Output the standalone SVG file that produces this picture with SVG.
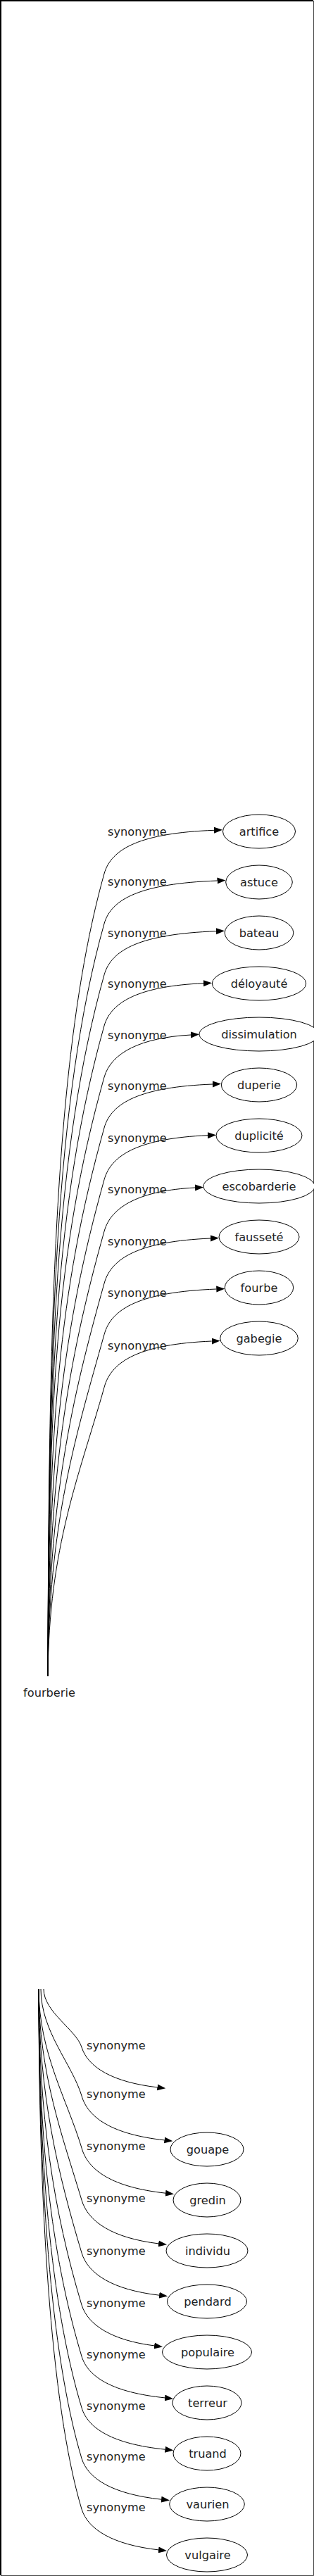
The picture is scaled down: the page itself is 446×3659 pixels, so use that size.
<svg xmlns="http://www.w3.org/2000/svg" width="446" height="3659" viewBox="0 0 446 3659">
<style>
.bg{fill:#fff}
.e{fill:none;stroke:#000;stroke-width:1;marker-end:url(#arr)}
.n{fill:#fff;stroke:#000;stroke-width:1}
.t{font-family:"DejaVu Sans",sans-serif;font-size:16.2px;fill:#222}
.m{text-anchor:middle}
</style>
<defs>
<marker id="arr" viewBox="0 -5 12 10" refX="0" refY="0" markerWidth="12" markerHeight="10" markerUnits="userSpaceOnUse" orient="auto"><path d="M0,-4.5L12,0L0,4.5z" fill="#000"/></marker>
</defs>
<rect class="bg" x="0" y="0" width="446" height="3659"/>
<path d="M1,3658V1H445" fill="none" stroke="#000" stroke-width="2"/>
<path d="M445.5,1V3658.5H1" fill="none" stroke="#444" stroke-width="1"/>

<g id="connectors">
<path class="e" d="M68,2381C69,1868 78,1491 148,1241C158,1205.2 200,1183.3 304,1179.3"/>
<path class="e" d="M68,2381C69,1900 78,1562 148,1312C158,1276.6 200,1255 308.5,1251"/>
<path class="e" d="M68,2381C69,1932.7 78,1634.7 148,1384.7C158,1348.7 200,1326.7 307,1322.7"/>
<path class="e" d="M68,2381C69,1965.2 78,1707 148,1457C158,1422 200,1400.6 289,1396.7"/>
<path class="e" d="M68,2381C69,1998 78,1780 148,1530C158,1495.2 200,1473.9 271,1470"/>
<path class="e" d="M68,2381C69,2030.5 82.6,1835.7 148,1602C158,1566 200,1544 302,1540"/>
<path class="e" d="M68,2381C69,2063.6 88.8,1887.3 148,1675.7C158,1639.2 200,1616.8 295,1612.7"/>
<path class="e" d="M68,2381C69,2096.6 94.9,1938.6 148,1749C158,1713 200,1691 277,1687"/>
<path class="e" d="M68,2381C69,2129.9 101.1,1990.4 148,1823C158,1785.9 200,1763.2 299,1759"/>
<path class="e" d="M68,2381C69,2162.6 107.2,2041.3 148,1895.7C158,1858.2 200,1835.2 307.3,1831"/>
<path class="e" d="M68,2381C69,2196.4 113.5,2093.8 148,1970.7C158,1932.6 200,1909.3 300.7,1905"/>

<path class="e" d="M62,2825C62,2858.2 108.5,2883.1 116,2908C125,2936.5 160,2957.5 223.4,2964.9"/>
<path class="e" d="M58,2825C58,2885.8 102.3,2931.4 116,2977C125,3008.5 160,3031.7 233.4,3039.9"/>
<path class="e" d="M55,2825C55,2915.4 95.7,2983.2 116,3051C125,3083.1 160,3106.9 235.1,3115.2"/>
<path class="e" d="M55,2825C55,2945 89,3035 116,3125C125,3156 160,3178.9 225.1,3186.9"/>
<path class="e" d="M55,2825C55,2975 82.3,3087.5 116,3200C125,3230.1 160,3252.4 226.1,3260.2"/>
<path class="e" d="M55,2825C55,3004.6 75.6,3139.3 116,3274C125,3303 160,3324.4 219.1,3331.9"/>
<path class="e" d="M55,2825C55,3033.8 71,3197 116,3347C125,3376.5 160,3398.2 234.1,3405.9"/>
<path class="e" d="M55,2825C55,3063 71,3270 116,3420C125,3449.6 160,3471.5 234.4,3479.2"/>
<path class="e" d="M55,2825C55,3091.8 71,3342 116,3492C125,3521.1 160,3542.6 229.1,3550.2"/>
<path class="e" d="M55,2825C55,3120.6 71,3414 116,3564C125,3593 160,3614.4 225.1,3621.9"/>

<g class="t">
<text x="153" y="1187">synonyme</text>
<text x="153" y="1258">synonyme</text>
<text x="153" y="1330.7">synonyme</text>
<text x="153" y="1403">synonyme</text>
<text x="153" y="1476">synonyme</text>
<text x="153" y="1548">synonyme</text>
<text x="153" y="1621.7">synonyme</text>
<text x="153" y="1695">synonyme</text>
<text x="153" y="1769">synonyme</text>
<text x="153" y="1841.7">synonyme</text>
<text x="153" y="1916.7">synonyme</text>
<text x="123" y="2911">synonyme</text>
<text x="123" y="2980">synonyme</text>
<text x="123" y="3054">synonyme</text>
<text x="123" y="3128">synonyme</text>
<text x="123" y="3203">synonyme</text>
<text x="123" y="3277">synonyme</text>
<text x="123" y="3350">synonyme</text>
<text x="123" y="3423">synonyme</text>
<text x="123" y="3495">synonyme</text>
<text x="123" y="3567">synonyme</text>
</g>
</g>

<g id="fourberie"><text class="t m" x="70" y="2410">fourberie</text></g>

<g id="artifice"><ellipse class="n" cx="368" cy="1181" rx="51.5" ry="24"/><text class="t m" x="368" y="1186.5">artifice</text></g>
<g id="astuce"><ellipse class="n" cx="368" cy="1253" rx="47.3" ry="24"/><text class="t m" x="368" y="1258.5">astuce</text></g>
<g id="bateau"><ellipse class="n" cx="368" cy="1325" rx="48.8" ry="24"/><text class="t m" x="368" y="1330.5">bateau</text></g>
<g id="deloyaute"><ellipse class="n" cx="368" cy="1397" rx="66.7" ry="24"/><text class="t m" x="368" y="1402.5">déloyauté</text></g>
<g id="dissimulation"><ellipse class="n" cx="368" cy="1469" rx="85" ry="24"/><text class="t m" x="368" y="1474.5">dissimulation</text></g>
<g id="duperie"><ellipse class="n" cx="368" cy="1541" rx="53.7" ry="24"/><text class="t m" x="368" y="1546.5">duperie</text></g>
<g id="duplicite"><ellipse class="n" cx="368" cy="1613" rx="61" ry="24"/><text class="t m" x="368" y="1618.5">duplicité</text></g>
<g id="escobarderie"><ellipse class="n" cx="368" cy="1685" rx="79" ry="24"/><text class="t m" x="368" y="1690.5">escobarderie</text></g>
<g id="faussete"><ellipse class="n" cx="368" cy="1757" rx="57" ry="24"/><text class="t m" x="368" y="1762.5">fausseté</text></g>
<g id="fourbe"><ellipse class="n" cx="368" cy="1829" rx="48.7" ry="24"/><text class="t m" x="368" y="1834.5">fourbe</text></g>
<g id="gabegie"><ellipse class="n" cx="368" cy="1901" rx="55.3" ry="24"/><text class="t m" x="368" y="1906.5">gabegie</text></g>

<g id="gouape"><ellipse class="n" cx="294" cy="3053" rx="52" ry="24"/><text class="t m" x="295" y="3058.5">gouape</text></g>
<g id="gredin"><ellipse class="n" cx="294" cy="3125" rx="48" ry="24"/><text class="t m" x="295" y="3130.5">gredin</text></g>
<g id="individu"><ellipse class="n" cx="294" cy="3197" rx="58" ry="24"/><text class="t m" x="295" y="3202.5">individu</text></g>
<g id="pendard"><ellipse class="n" cx="294" cy="3269" rx="56.5" ry="24"/><text class="t m" x="295" y="3274.5">pendard</text></g>
<g id="populaire"><ellipse class="n" cx="294" cy="3341" rx="63.5" ry="24"/><text class="t m" x="295" y="3346.5">populaire</text></g>
<g id="terreur"><ellipse class="n" cx="294" cy="3413" rx="49" ry="24"/><text class="t m" x="295" y="3418.5">terreur</text></g>
<g id="truand"><ellipse class="n" cx="294" cy="3485" rx="48" ry="24"/><text class="t m" x="295" y="3490.5">truand</text></g>
<g id="vaurien"><ellipse class="n" cx="294" cy="3557" rx="53.3" ry="24"/><text class="t m" x="295" y="3562.5">vaurien</text></g>
<g id="vulgaire"><ellipse class="n" cx="294" cy="3629" rx="57.5" ry="24"/><text class="t m" x="295" y="3634.5">vulgaire</text></g>
</svg>
